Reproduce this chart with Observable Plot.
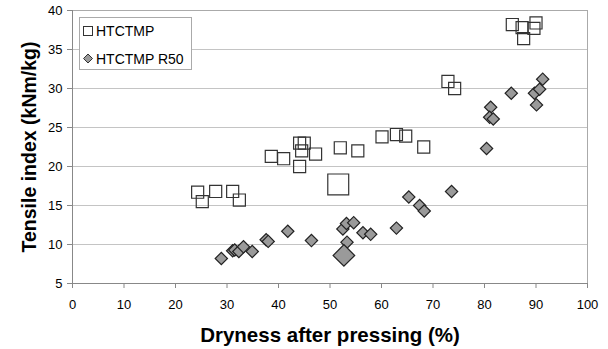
<!DOCTYPE html>
<html><head><meta charset="utf-8">
<script src="https://cdn.jsdelivr.net/npm/d3@7"></script>
<script src="https://cdn.jsdelivr.net/npm/@observablehq/plot@0.6"></script>
<style>
body{margin:0;background:#fff;}
#wrap{position:relative;width:608px;height:349px;font-family:"Liberation Sans",Arial,sans-serif;}
#legend{position:absolute;left:79px;top:17px;}
</style>
</head><body>
<div id="wrap"><div id="chart"></div><div id="legend"></div></div>
<script>
const xTicks = [0,10,20,30,40,50,60,70,80,90,100];
const yTicks = [5,10,15,20,25,30,35,40];
const seriesNames = ["HTCTMP","HTCTMP R50"];
const xTitle = "Dryness after pressing (%)";
const yTitle = "Tensile index (kNm/kg)";

const htctmpX = [24.3,25.2,27.8,31.1,32.4,38.6,41.0,44.1,45.0,44.5,44.1,47.2,52.0,55.4,60.1,62.9,64.7,68.2,72.9,74.2,85.4,87.3,87.6,89.6,90.0];
const htctmpY = [16.7,15.5,16.8,16.8,15.7,21.3,21.0,23.0,23.0,22.0,20.0,21.6,22.4,22.0,23.8,24.1,23.9,22.5,30.9,30.0,38.2,37.8,36.4,37.7,38.4];
const htctmpRefX = [51.6];
const htctmpRefY = [17.7];

const r50X = [28.9,31.1,31.5,32.3,33.2,34.9,37.6,38.0,41.8,46.4,52.5,53.2,54.6,53.3,56.4,57.9,62.9,65.3,67.4,68.3,73.6,80.4,81.2,81.0,81.7,85.2,89.7,90.7,90.1,91.3];
const r50Y = [8.2,9.2,9.3,9.1,9.7,9.1,10.6,10.4,11.7,10.5,12.0,12.7,12.8,10.3,11.5,11.3,12.1,16.1,15.0,14.3,16.8,22.3,27.6,26.3,26.1,29.4,29.4,29.9,27.9,31.2];
const r50RefX = [52.7];
const r50RefY = [8.6];

const toRows = (xs, ys) => xs.map((x,i) => ({x, y: ys[i]}));
const sq = toRows(htctmpX, htctmpY);
const sqRef = toRows(htctmpRefX, htctmpRefY);
const dm = toRows(r50X, r50Y);
const dmRef = toRows(r50RefX, r50RefY);

const font = '"Liberation Sans", Arial, sans-serif';

const chart = Plot.plot({
  width: 608, height: 349,
  marginLeft: 72, marginRight: 21, marginTop: 10, marginBottom: 66,
  style: {fontFamily: font, fontSize: "13px", color: "#000", background: "#fff"},
  x: {domain: [0,100]},
  y: {domain: [5,40]},
  marks: [
    Plot.gridY(yTicks, {stroke: "#c4c4c4", strokeOpacity: 1}),
    Plot.frame({stroke: "#aaa"}),
    Plot.ruleX([0], {stroke: "#888"}),
    Plot.ruleY([5], {stroke: "#888"}),
    Plot.axisX(xTicks, {tickSize: 5, tickPadding: 11, stroke: "#888", fill: "#000", fontSize: 13,
      label: xTitle, labelArrow: "none", labelAnchor: "center", labelOffset: 58}),
    Plot.axisY(yTicks, {tickSize: 5, tickPadding: 5, stroke: "#888", fill: "#000", fontSize: 13,
      label: yTitle, labelArrow: "none", labelAnchor: "center", labelOffset: 50}),
    Plot.dot(sq, {x: "x", y: "y", symbol: "square", r: 6.8, stroke: "#333", strokeWidth: 1.2, fill: "none"}),
    Plot.dot(sqRef, {x: "x", y: "y", symbol: "square", r: 11.8, stroke: "#333", strokeWidth: 1.2, fill: "none"}),
    Plot.dot(dm, {x: "x", y: "y", symbol: "square", rotate: 45, r: 4.9, stroke: "#222", strokeWidth: 1.2, fill: "#9a9a9a"}),
    Plot.dot(dmRef, {x: "x", y: "y", symbol: "square", rotate: 45, r: 8.6, stroke: "#222", strokeWidth: 1.2, fill: "#9a9a9a"})
  ]
});
document.getElementById("chart").appendChild(chart);
d3.select(chart).selectAll('g[aria-label="x-axis label"] text')
  .attr("font-weight", "bold").attr("font-size", "20.5px").text(xTitle);
d3.select(chart).selectAll('g[aria-label="y-axis label"] text')
  .attr("font-weight", "bold").attr("font-size", "19.5px").text(yTitle);

// legend
const lg = d3.select("#legend").append("svg").attr("width", 114).attr("height", 54)
  .style("font-family", font).style("font-size", "14px");
lg.append("rect").attr("x", 0.5).attr("y", 0.5).attr("width", 112).attr("height", 52)
  .attr("fill", "#fff").attr("stroke", "#aaa");
lg.append("rect").attr("x", 4.5).attr("y", 9.5).attr("width", 9).attr("height", 9)
  .attr("fill", "none").attr("stroke", "#333");
lg.append("text").attr("x", 17).attr("y", 19).text(seriesNames[0]);
lg.append("path").attr("d", "M9,37 L13.5,41.5 L9,46 L4.5,41.5 Z")
  .attr("fill", "#9a9a9a").attr("stroke", "#333");
lg.append("text").attr("x", 17).attr("y", 46.5).text(seriesNames[1]);
</script>
</body></html>
